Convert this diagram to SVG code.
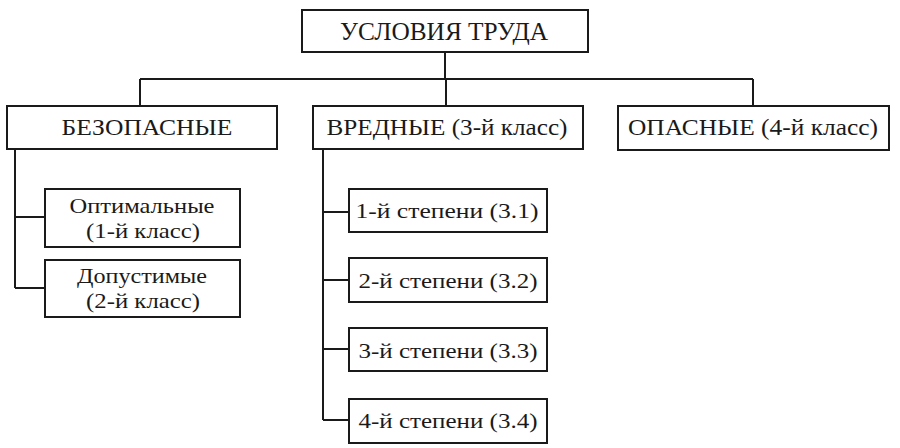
<svg xmlns="http://www.w3.org/2000/svg" width="900" height="448" viewBox="0 0 900 448">
<style>
.box{fill:#fff;stroke:#1a1a1a;stroke-width:2}
.ln{fill:none;stroke:#1a1a1a;stroke-width:2}
text{font-family:"Liberation Serif","Times New Roman",serif;fill:#1a1a1a;text-anchor:middle}
.t1{font-size:25px}
.t2{font-size:23.5px}
.t3{font-size:22px}
</style>
<rect width="900" height="448" fill="#fff"/>
<g id="connectors">
<path class="ln" d="M445 52V79M140 79H753M140 79V106M446 79V106M753 79V106"/>
<path class="ln" d="M15 149V288M15 217H45M15 288H45"/>
<path class="ln" d="M323 149V420M323 212H349M323 280H349M323 349H349M323 420H349"/>
</g>
<g id="n-root"><rect class="box" x="302" y="10" width="286" height="42"/><text class="t1" x="444" y="40" textLength="208" lengthAdjust="spacingAndGlyphs">УСЛОВИЯ ТРУДА</text></g>
<g id="n-safe"><rect class="box" x="7" y="106" width="270" height="43"/><text class="t2" x="147" y="135" textLength="171" lengthAdjust="spacingAndGlyphs">БЕЗОПАСНЫЕ</text></g>
<g id="n-harm"><rect class="box" x="313" y="106" width="270" height="43"/><text class="t2" x="447" y="135" textLength="241" lengthAdjust="spacingAndGlyphs">ВРЕДНЫЕ (3-й класс)</text></g>
<g id="n-danger"><rect class="box" x="618" y="106" width="271" height="44"/><text class="t2" x="753" y="135" textLength="250" lengthAdjust="spacingAndGlyphs">ОПАСНЫЕ (4-й класс)</text></g>
<g id="n-opt"><rect class="box" x="45" y="189" width="195" height="58"/><text class="t3" x="142" y="213" textLength="145" lengthAdjust="spacingAndGlyphs">Оптимальные</text><text class="t3" x="143" y="238" textLength="114" lengthAdjust="spacingAndGlyphs">(1-й класс)</text></g>
<g id="n-dop"><rect class="box" x="45" y="260" width="195" height="57"/><text class="t3" x="142" y="283" textLength="130" lengthAdjust="spacingAndGlyphs">Допустимые</text><text class="t3" x="143" y="308" textLength="114" lengthAdjust="spacingAndGlyphs">(2-й класс)</text></g>
<g id="n-31"><rect class="box" x="349" y="189" width="198" height="43"/><text class="t3" x="447" y="218" textLength="183" lengthAdjust="spacingAndGlyphs">1-й степени (3.1)</text></g>
<g id="n-32"><rect class="box" x="349" y="258" width="198" height="44"/><text class="t3" x="448" y="288" textLength="179" lengthAdjust="spacingAndGlyphs">2-й степени (3.2)</text></g>
<g id="n-33"><rect class="box" x="349" y="328" width="198" height="43"/><text class="t3" x="448" y="358" textLength="179" lengthAdjust="spacingAndGlyphs">3-й степени (3.3)</text></g>
<g id="n-34"><rect class="box" x="349" y="399" width="198" height="44"/><text class="t3" x="448" y="428" textLength="179" lengthAdjust="spacingAndGlyphs">4-й степени (3.4)</text></g>
</svg>
